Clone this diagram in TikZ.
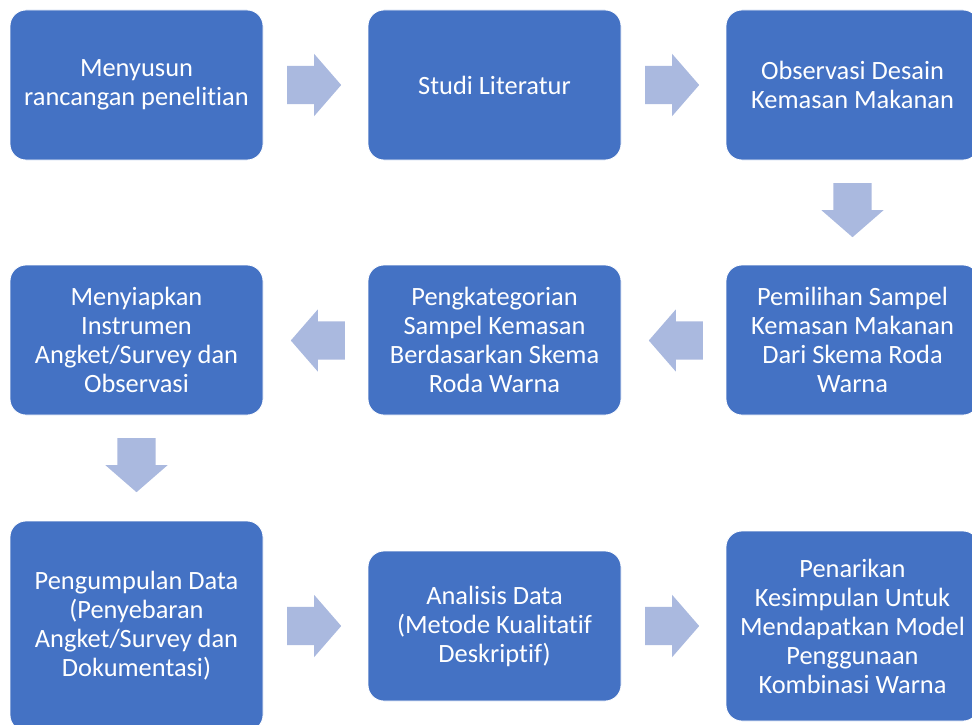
\documentclass[tikz,border=0pt]{standalone}
\usepackage{fontspec}
\setmainfont[Ligatures=NoCommon]{Carlito}
\usetikzlibrary{shapes.arrows}
\definecolor{boxblue}{HTML}{4472C4}
\definecolor{arrowblue}{HTML}{AAB9DF}
\tikzset{
  stepbox/.style={rectangle, rounded corners=16pt, fill=boxblue, draw=white, line width=0.8pt,
    text=white, minimum width=253pt, minimum height=150pt, align=center, inner sep=0pt,
    font=\fontsize{26.4}{29}\selectfont},
  blockarrow/.style={single arrow, fill=arrowblue, draw=none, inner xsep=0pt, inner ysep=19pt,
    minimum height=54pt, single arrow head extend=12pt, single arrow tip angle=98, anchor=tail}
}

\begin{document}
\begin{tikzpicture}[x=1pt,y=-1pt]
 \useasboundingbox (0,0) rectangle (972,725);
 % first row
 \node[stepbox] (b1) at (136.5,85) {Menyusun\\rancangan penelitian};
 \node[stepbox] (b2) at (494.5,85) {Studi Literatur};
 \node[stepbox] (b3) at (852.5,85) {Observasi Desain\\Kemasan Makanan};
 % second row
 \node[stepbox] (b4) at (136.5,340) {Menyiapkan\\Instrumen\\Angket/Survey dan\\Observasi};
 \node[stepbox] (b5) at (494.5,340) {Pengkategorian\\Sampel Kemasan\\Berdasarkan Skema\\Roda Warna};
 \node[stepbox] (b6) at (852.5,340) {Pemilihan Sampel\\Kemasan Makanan\\Dari Skema Roda\\Warna};
 % third row
 \node[stepbox, minimum height=210pt] (b7) at (136.5,626) {Pengumpulan Data\\(Penyebaran\\Angket/Survey dan\\Dokumentasi)};
 \node[stepbox] (b8) at (494.5,626) {Analisis Data\\(Metode Kualitatif\\Deskriptif)};
 \node[stepbox, minimum height=190pt] (b9) at (852.5,626) {Penarikan\\Kesimpulan Untuk\\Mendapatkan Model\\Penggunaan\\Kombinasi Warna};
 % arrows (placed by their tail)
 \node[blockarrow] (a12) at (287,85) {};
 \node[blockarrow] (a23) at (645,85) {};
 \node[blockarrow, rotate=-90] (a36) at (852.5,183) {};
 \node[blockarrow, rotate=180] (a65) at (703,340.5) {};
 \node[blockarrow, rotate=180] (a54) at (345,340.5) {};
 \node[blockarrow, rotate=-90] (a47) at (136.5,438) {};
 \node[blockarrow] (a78) at (287,626) {};
 \node[blockarrow] (a89) at (645,626) {};
\end{tikzpicture}
\end{document}
